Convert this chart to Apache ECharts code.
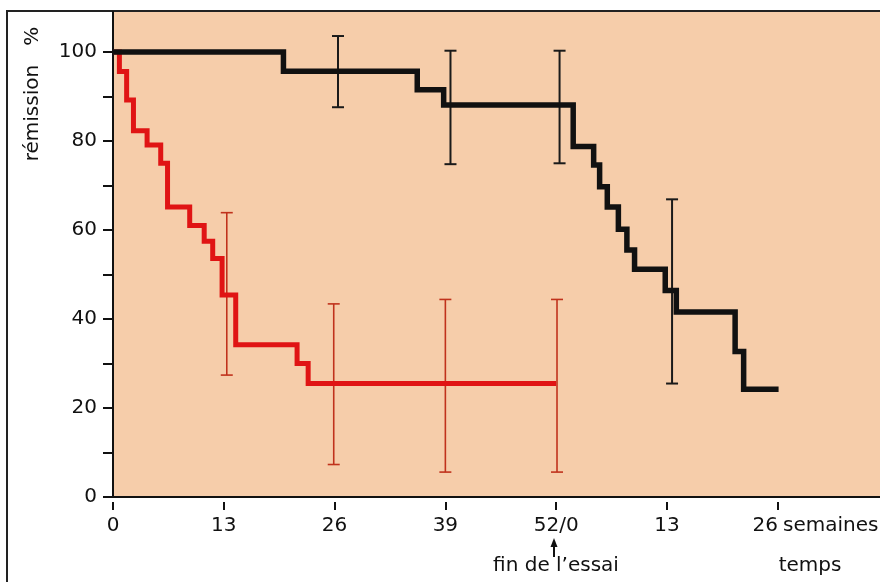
<!DOCTYPE html>
<html>
<head>
<meta charset="utf-8">
<script src="https://cdn.jsdelivr.net/npm/echarts@6/dist/echarts.min.js"></script>
<style>
  html, body { margin: 0; padding: 0; background: #fff; }
  #chart { width: 880px; height: 582px; }
</style>
</head>
<body>
<div id="chart"></div>
<script>
// semaines depuis le debut ; la 2e partie de l'axe repart de 0 apres 52
var xTicks = [0, 13, 26, 39, 52, 65, 78];
var xTickLabels = ['0', '13', '26', '39', '52/0', '13', '26'];
var yTicks = [0, 10, 20, 30, 40, 50, 60, 70, 80, 90, 100];
var yLabels = [0, 20, 40, 60, 80, 100];

// courbe rouge
var redWeeks = [0, 0.75, 1.6, 2.4, 4.0, 5.6, 6.4, 9.0, 10.7, 11.7, 12.8, 14.4, 21.6, 22.9, 52];
var redSurv = [100, 95.6, 89.2, 82.3, 79.1, 75.0, 65.2, 61.0, 57.5, 53.6, 45.4, 34.2, 30.0, 25.5, 25.5];
// courbe noire
var blackWeeks = [0, 20.0, 35.7, 38.8, 54.0, 56.4, 57.1, 58.0, 59.3, 60.3, 61.2, 64.8, 66.1, 73.0, 74.0, 78.1];
var blackSurv = [100, 95.7, 91.5, 88.1, 78.8, 74.6, 69.7, 65.2, 60.2, 55.5, 51.2, 46.4, 41.6, 32.7, 24.2, 24.2];

// barres d'erreur [semaine, bas, haut]
var redErr = [[13.35, 27.4, 63.9], [25.9, 7.3, 43.4], [39.0, 5.6, 44.4], [52.1, 5.6, 44.4]];
var blackErr = [[26.4, 87.6, 103.6], [39.6, 74.8, 100.3], [52.4, 75.0, 100.3], [65.6, 25.5, 66.9]];

function zip(xs, ys) {
  var out = [];
  xs.forEach(function (x, i) { out.push([x, ys[i]]); });
  return out;
}

function errRender(color, width) {
  return function (params, api) {
    var top = api.coord([api.value(0), api.value(2)]);
    var bot = api.coord([api.value(0), api.value(1)]);
    var cap = 6;
    var style = {stroke: color, lineWidth: width};
    return {
      type: 'group',
      children: [
        {type: 'line', shape: {x1: top[0], y1: top[1], x2: bot[0], y2: bot[1]}, style: style},
        {type: 'line', shape: {x1: top[0] - cap, y1: top[1], x2: top[0] + cap, y2: top[1]}, style: style},
        {type: 'line', shape: {x1: bot[0] - cap, y1: bot[1], x2: bot[0] + cap, y2: bot[1]}, style: style}
      ]
    };
  };
}

var font = '"DejaVu Sans", sans-serif';

var option = {
  backgroundColor: '#fff',
  animation: false,
  grid: {
    left: 113, top: 12, right: 0, bottom: 85,
    show: true, backgroundColor: '#f6cdaa', borderWidth: 0
  },
  xAxis: [
    {
      type: 'value', min: 0, max: 90,
      axisLine: {show: true, lineStyle: {color: '#111', width: 2}},
      axisTick: {show: false}, axisLabel: {show: false}, splitLine: {show: false}
    },
    {
      type: 'value', min: 0, max: 90, position: 'bottom', offset: 5,
      axisLine: {show: false},
      axisTick: {show: true, length: 8, lineStyle: {color: '#111', width: 2}, customValues: xTicks},
      axisLabel: {
        show: true, margin: 14, fontSize: 20, color: '#111', fontFamily: font,
        customValues: xTicks,
        formatter: function (v) {
          var i = xTicks.indexOf(v);
          if (i < 0) return '';
          if (v === 78) return '{r|' + xTickLabels[i] + '}';
          return xTickLabels[i];
        },
        rich: {r: {fontSize: 20, color: '#111', fontFamily: font, padding: [0, 25, 0, 0]}}
      },
      splitLine: {show: false}
    }
  ],
  yAxis: {
    type: 'value', min: 0, max: 109,
    axisLine: {show: true, lineStyle: {color: '#111', width: 2}},
    axisTick: {show: true, length: 10, lineStyle: {color: '#111', width: 2}, customValues: yTicks},
    axisLabel: {
      show: true, margin: 16, fontSize: 20, color: '#111', fontFamily: font,
      customValues: yLabels
    },
    splitLine: {show: false}
  },
  series: [
    {
      type: 'custom', renderItem: errRender('#c0321c', 1.6),
      data: redErr, z: 3
    },
    {
      type: 'custom', renderItem: errRender('#1a1a1a', 2),
      data: blackErr, z: 3
    },
    {
      type: 'line', step: 'end', data: zip(redWeeks, redSurv), symbol: 'none',
      lineStyle: {color: '#e01414', width: 5, join: 'miter'}, z: 4
    },
    {
      type: 'line', step: 'end', data: zip(blackWeeks, blackSurv), symbol: 'none',
      lineStyle: {color: '#111', width: 5.5, join: 'miter'}, z: 5
    }
  ],
  graphic: [
    {type: 'line', shape: {x1: 7, y1: 10, x2: 7, y2: 582}, style: {stroke: '#222', lineWidth: 2}},
    {type: 'line', shape: {x1: 7, y1: 11, x2: 880, y2: 11}, style: {stroke: '#222', lineWidth: 2}},
    {
      type: 'text', x: 33, y: 94, rotation: Math.PI / 2,
      style: {text: 'rémission   %', fontSize: 20, fontFamily: font, fill: '#111', align: 'center', verticalAlign: 'middle'}
    },
    {
      type: 'text', x: 783, y: 526,
      style: {text: 'semaines', fontSize: 20, fontFamily: font, fill: '#111', align: 'left', verticalAlign: 'middle'}
    },
    {
      type: 'text', x: 810, y: 566,
      style: {text: 'temps', fontSize: 20, fontFamily: font, fill: '#111', align: 'center', verticalAlign: 'middle'}
    },
    {
      type: 'text', x: 556, y: 566,
      style: {text: 'fin de l’essai', fontSize: 20, fontFamily: font, fill: '#111', align: 'center', verticalAlign: 'middle'}
    },
    {type: 'line', shape: {x1: 554, y1: 545, x2: 554, y2: 557}, style: {stroke: '#111', lineWidth: 2}},
    {type: 'polygon', shape: {points: [[554, 538], [550.5, 547], [557.5, 547]]}, style: {fill: '#111'}}
  ]
};

var chart = echarts.init(document.getElementById('chart'), null, {renderer: 'canvas'});
chart.setOption(option);
</script>
</body>
</html>
